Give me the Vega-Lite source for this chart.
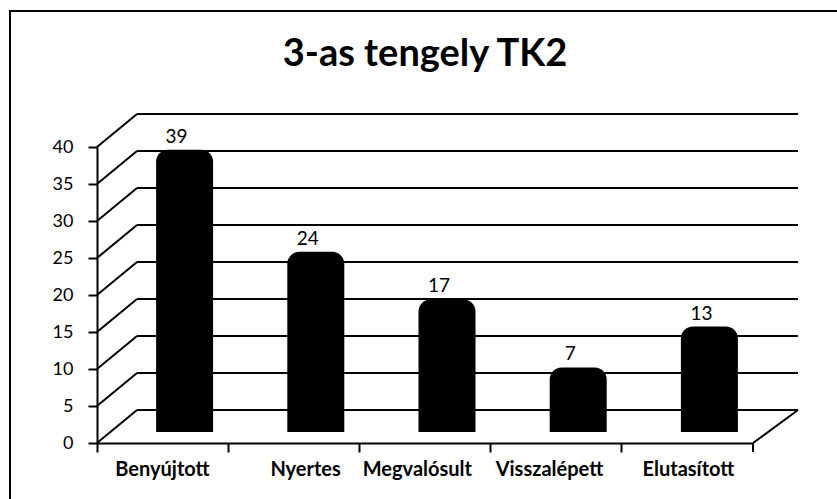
{
  "$schema": "https://vega.github.io/schema/vega-lite/v6.json",
  "width": 830,
  "height": 490,
  "autosize": {"type": "none"},
  "padding": {"left": 10, "top": 11, "right": 0, "bottom": 0},
  "background": "white",
  "config": {"view": {"stroke": "black", "strokeWidth": 2}, "font": "Lato"},
  "title": {"text": "3-as tengely TK2", "fontSize": 38, "fontWeight": "bold", "font": "Lato", "color": "black", "anchor": "middle", "frame": "group", "baseline": "alphabetic", "offset": -56, "dy": 37},
  "datasets": {
    "bars": [
      {"cat": "Benyújtott", "v": 39},
      {"cat": "Nyertes", "v": 24},
      {"cat": "Megvalósult", "v": 17},
      {"cat": "Visszalépett", "v": 7},
      {"cat": "Elutasított", "v": 13}
    ],
    "levels": [{"v": 0}, {"v": 5}, {"v": 10}, {"v": 15}, {"v": 20}, {"v": 25}, {"v": 30}, {"v": 35}, {"v": 40}]
  },
  "layer": [
    {
      "layer": [
        {
          "data": {"name": "levels"},
          "mark": {"type": "rule", "color": "black", "strokeWidth": 2, "xOffset": -25.6, "x2Offset": 110.6, "yOffset": -33, "y2Offset": -33},
          "encoding": {
            "x": {"datum": "Benyújtott", "type": "nominal", "title": null},
            "x2": {"datum": "Elutasított"},
            "y": {"field": "v", "type": "quantitative", "title": null,
              "scale": {"domain": [0, 40], "range": [432, 136], "nice": false, "zero": false},
              "axis": {"title": null, "offset": -87, "values": [0, 5, 10, 15, 20, 25, 30, 35, 40], "tickSize": 9, "tickWidth": 2, "tickColor": "black", "domainColor": "black", "domainWidth": 2, "labelFontSize": 18, "labelColor": "black", "labelPadding": 15, "labelFont": "Lato", "grid": false}},
            "y2": {"field": "v"}
          }
        },
        {
          "data": {"name": "levels"},
          "mark": {"type": "rule", "color": "black", "strokeWidth": 2, "xOffset": -65.6, "x2Offset": -25.6, "y2Offset": -33},
          "encoding": {
            "x": {"datum": "Benyújtott", "type": "nominal", "title": null},
            "x2": {"datum": "Benyújtott"},
            "y": {"field": "v", "type": "quantitative", "title": null},
            "y2": {"field": "v"}
          }
        },
        {
          "data": {"name": "bars"},
          "transform": [{"filter": "datum.cat == 'Elutasított'"}],
          "mark": {"type": "rule", "color": "black", "strokeWidth": 2, "xOffset": 65.6, "x2Offset": 110.6, "y2Offset": -33},
          "encoding": {
            "x": {"datum": "Elutasított", "type": "nominal", "title": null},
            "x2": {"datum": "Elutasított"},
            "y": {"datum": 0, "type": "quantitative", "title": null},
            "y2": {"datum": 0}
          }
        },
        {
          "data": {"name": "bars"},
          "transform": [{"filter": "datum.cat == 'Elutasított'"}],
          "mark": {"type": "rule", "color": "black", "strokeWidth": 2, "xOffset": 65.6, "x2Offset": 65.6, "y2Offset": 9},
          "encoding": {
            "x": {"datum": "Elutasított", "type": "nominal", "title": null},
            "x2": {"datum": "Elutasított"},
            "y": {"datum": 0, "type": "quantitative", "title": null},
            "y2": {"datum": 0}
          }
        }
      ]
    },
    {
      "data": {"name": "bars"},
      "encoding": {
        "x": {"field": "cat", "type": "nominal", "title": null, "sort": null,
          "scale": {"domain": ["Benyújtott", "Nyertes", "Megvalósult", "Visszalépett", "Elutasított"], "range": [87, 743], "paddingInner": 0, "paddingOuter": 0},
          "axis": {"title": null, "offset": -58, "bandPosition": 0, "labelOffset": 47, "tickSize": 9, "tickWidth": 2, "tickColor": "black", "domainColor": "black", "domainWidth": 2, "labelFontSize": 20, "labelFontWeight": "bold", "labelColor": "black", "labelPadding": 17, "labelAngle": 0, "labelFont": "Lato", "grid": false}},
        "y": {"field": "v", "type": "quantitative", "title": null,
          "scale": {"domain": [0, 40], "range": [404, 132], "nice": false, "zero": false},
          "axis": null}
      },
      "layer": [
        {
          "mark": {"type": "bar", "color": "black", "width": 57, "xOffset": 22, "y2Offset": 17, "cornerRadiusTopLeft": 12, "cornerRadiusTopRight": 12},
          "encoding": {"y2": {"datum": 0}}
        },
        {
          "mark": {"type": "text", "fontSize": 19, "font": "Lato", "color": "black", "xOffset": 14, "dy": -13, "baseline": "middle"},
          "encoding": {"text": {"field": "v", "type": "quantitative"}}
        }
      ]
    }
  ],
  "resolve": {"scale": {"y": "independent"}, "axis": {"y": "independent"}}
}
